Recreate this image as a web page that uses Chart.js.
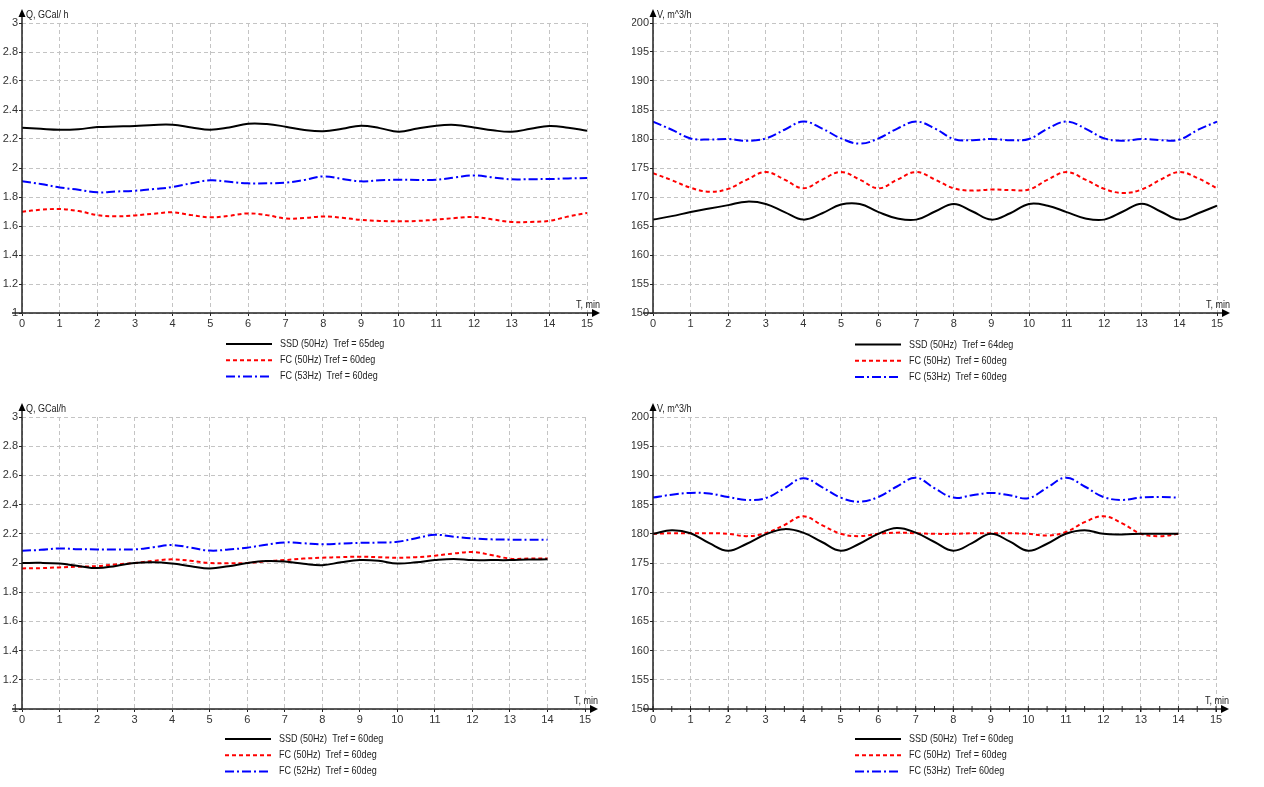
<!DOCTYPE html>
<html><head><meta charset="utf-8">
<script src="https://cdn.jsdelivr.net/npm/chart.js@4.4.1/dist/chart.umd.min.js"></script>
<style>
html,body{margin:0;padding:0;background:#fff;overflow:hidden;}
.wrap{position:absolute;width:632px;height:393px;}
canvas{display:block;}
</style></head><body>
<div class="wrap" style="left:0;top:0"><canvas id="c1" width="632" height="393"></canvas></div>
<div class="wrap" style="left:632px;top:0"><canvas id="c2" width="632" height="393"></canvas></div>
<div class="wrap" style="left:0;top:393px"><canvas id="c3" width="632" height="393"></canvas></div>
<div class="wrap" style="left:632px;top:393px"><canvas id="c4" width="632" height="393"></canvas></div>
<script>
// ---------- data ----------
const timeTo15 = [0,0.5,1,1.5,2,2.5,3,3.5,4,4.5,5,5.5,6,6.5,7,7.5,8,8.5,9,9.5,10,10.5,11,11.5,12,12.5,13,13.5,14,14.5,15];
const timeTo14 = [0,0.5,1,1.5,2,2.5,3,3.5,4,4.5,5,5.5,6,6.5,7,7.5,8,8.5,9,9.5,10,10.5,11,11.5,12,12.5,13,13.5,14];
const xTicks = [0,1,2,3,4,5,6,7,8,9,10,11,12,13,14,15];
const qTicks = [1,1.2,1.4,1.6,1.8,2,2.2,2.4,2.6,2.8,3];
const vTicks = [150,155,160,165,170,175,180,185,190,195,200];

// Chart 1: Q, top-left
const q1Labels = ["SSD (50Hz)  Tref = 65deg","FC (50Hz) Tref = 60deg","FC (53Hz)  Tref = 60deg"];
const q1Ssd = [2.278,2.27,2.264,2.268,2.282,2.286,2.29,2.297,2.298,2.28,2.264,2.28,2.305,2.303,2.285,2.262,2.253,2.27,2.292,2.275,2.25,2.272,2.292,2.297,2.28,2.26,2.25,2.27,2.29,2.278,2.257];
const q1Fc50 = [1.699,1.712,1.717,1.703,1.675,1.667,1.673,1.685,1.694,1.675,1.66,1.67,1.687,1.675,1.652,1.655,1.666,1.657,1.642,1.635,1.632,1.635,1.644,1.655,1.662,1.645,1.628,1.628,1.636,1.665,1.69];
const q1Fc53 = [1.908,1.89,1.866,1.85,1.832,1.838,1.843,1.855,1.869,1.895,1.915,1.905,1.894,1.895,1.899,1.918,1.942,1.925,1.908,1.915,1.919,1.918,1.919,1.935,1.949,1.935,1.922,1.923,1.924,1.928,1.931];

// Chart 2: V, top-right
const v2Labels = ["SSD (50Hz)  Tref = 64deg","FC (50Hz)  Tref = 60deg","FC (53Hz)  Tref = 60deg"];
const v2Ssd = [166.1,166.7,167.4,168.0,168.6,169.2,168.8,167.4,166.1,167.2,168.7,168.8,167.4,166.3,166.1,167.5,168.8,167.5,166.1,167.2,168.8,168.5,167.4,166.3,166.1,167.5,168.85,167.5,166.1,167.2,168.5];
const v2Fc50 = [174.1,172.9,171.6,170.9,171.4,173.0,174.3,173.0,171.5,173.0,174.3,173.0,171.5,173.0,174.3,173.0,171.5,171.1,171.3,171.2,171.3,173.0,174.3,173.0,171.4,170.7,171.3,173.0,174.3,173.2,171.5];
const v2Fc53 = [183.0,181.6,180.1,179.9,180.0,179.7,180.1,181.6,183.0,181.8,180.1,179.2,180.1,181.8,183.0,181.8,180.0,179.8,180.0,179.8,180.0,181.8,183.0,181.8,180.1,179.7,180.0,179.8,179.9,181.6,183.0];

// Chart 3: Q, bottom-left
const q3Labels = ["SSD (50Hz)  Tref = 60deg","FC (50Hz)  Tref = 60deg","FC (52Hz)  Tref = 60deg"];
const q3Ssd = [2.0,2.001,1.996,1.98,1.965,1.98,2.0,2.005,1.996,1.978,1.963,1.978,2.0,2.013,2.01,1.995,1.985,2.005,2.02,2.015,1.996,2.005,2.02,2.028,2.02,2.02,2.02,2.024,2.025];
const q3Fc50 = [1.963,1.965,1.97,1.975,1.979,1.99,2.0,2.015,2.025,2.015,2.0,1.998,2.0,2.012,2.02,2.03,2.036,2.04,2.043,2.04,2.036,2.04,2.05,2.065,2.075,2.055,2.03,2.03,2.03];
const q3Fc52 = [2.084,2.09,2.1,2.095,2.093,2.093,2.093,2.108,2.123,2.105,2.085,2.092,2.105,2.125,2.141,2.135,2.128,2.133,2.138,2.14,2.145,2.17,2.193,2.18,2.168,2.162,2.16,2.16,2.16];

// Chart 4: V, bottom-right
const v4Labels = ["SSD (50Hz)  Tref = 60deg","FC (50Hz)  Tref = 60deg","FC (53Hz)  Tref= 60deg"];
const v4Ssd = [180.0,180.6,180.1,178.4,177.1,178.3,179.9,180.8,180.2,178.6,177.1,178.3,180.0,181.0,180.2,178.6,177.1,178.4,180.0,178.7,177.1,178.3,180.0,180.6,180.0,179.9,180.0,180.0,180.0];
const v4Fc50 = [180.0,180.1,180.1,180.1,180.0,179.6,180.1,181.5,183.0,181.5,180.0,179.6,180.0,180.2,180.1,180.0,180.0,180.1,180.1,180.1,180.0,179.7,180.3,182.0,183.0,181.8,180.0,179.6,180.0];
const v4Fc53 = [186.2,186.7,187.0,186.9,186.3,185.8,186.1,187.8,189.5,188.0,186.2,185.5,186.3,188.1,189.6,187.8,186.2,186.6,187.0,186.6,186.1,187.9,189.6,188.1,186.3,185.8,186.2,186.3,186.2];

// ---------- drawing ----------
const FONT = "'Liberation Sans', Arial, sans-serif";
Chart.defaults.font.family = FONT;
Chart.defaults.font.size = 11;
Chart.defaults.color = '#222';

const styles = [
  {color:'#000000', dash:[]},
  {color:'#ff0000', dash:[4,3]},
  {color:'#0000ff', dash:[9,3,2,3]}
];

function pts(t, v){ return v.map((y,i)=>({x:t[i], y:y})); }

function narrowText(ctx, txt, x, y, align){
  ctx.save();
  ctx.translate(x, y);
  ctx.scale(0.82, 1);
  ctx.textAlign = align;
  ctx.fillText(txt, 0, 0);
  ctx.restore();
}

const deco = {
  id:'deco',
  afterDraw(chart){
    const o = chart.options.plugins.deco;
    const ctx = chart.ctx, a = chart.chartArea;
    const xs = chart.scales.x;
    ctx.save();
    ctx.strokeStyle = '#222'; ctx.fillStyle = '#000'; ctx.lineWidth = 1.5;
    // x axis
    ctx.beginPath(); ctx.moveTo(a.left-10, a.bottom); ctx.lineTo(a.right+7, a.bottom); ctx.stroke();
    ctx.beginPath(); ctx.moveTo(a.right+13, a.bottom); ctx.lineTo(a.right+5, a.bottom-4); ctx.lineTo(a.right+5, a.bottom+4); ctx.closePath(); ctx.fill();
    // y axis
    ctx.beginPath(); ctx.moveTo(a.left, a.bottom); ctx.lineTo(a.left, a.top-9); ctx.stroke();
    ctx.beginPath(); ctx.moveTo(a.left, a.top-14); ctx.lineTo(a.left-3.5, a.top-6); ctx.lineTo(a.left+3.5, a.top-6); ctx.closePath(); ctx.fill();
    if (o.minor){
      ctx.lineWidth = 1;
      for (let v=0; v<=15; v+=0.5){
        const px = xs.getPixelForValue(v);
        ctx.beginPath(); ctx.moveTo(px, a.bottom-3); ctx.lineTo(px, a.bottom+3); ctx.stroke();
      }
    }
    // titles
    ctx.font = '11px ' + FONT; ctx.fillStyle = '#222';
    ctx.textBaseline = 'middle';
    narrowText(ctx, o.yTitle, a.left+4, a.top-8, 'left');
    narrowText(ctx, 'T, min', a.right+13, a.bottom-8, 'right');
    // legend
    chart.data.datasets.forEach((ds,i)=>{
      const y = o.legY + i*16.2;
      ctx.save();
      ctx.strokeStyle = ds.borderColor; ctx.lineWidth = 2; ctx.setLineDash(ds.borderDash);
      ctx.beginPath(); ctx.moveTo(o.legX, y); ctx.lineTo(o.legX+46, y); ctx.stroke();
      ctx.restore();
      ctx.fillStyle = '#222';
      narrowText(ctx, ds.label, o.legX+54, y, 'left');
    });
    ctx.restore();
  }
};

function make(id, g){
  const datasets = g.series.map((v,i)=>({
    label: g.labels[i],
    data: pts(g.time, v),
    borderColor: styles[i].color,
    borderDash: styles[i].dash,
    borderWidth: 2,
    pointRadius: 0,
    tension: 0.4,
    fill: false
  }));
  return new Chart(document.getElementById(id), {
    type:'line',
    data:{datasets},
    options:{
      responsive:false, animation:false, devicePixelRatio:1,
      layout:{padding:{left:0, top:g.T, right:632-g.R, bottom:393-g.B-20}},
      plugins:{legend:{display:false}, tooltip:{enabled:false},
        deco:{yTitle:g.yTitle, legX:g.legX, legY:g.legY, minor:!!g.minor}},
      scales:{
        x:{type:'linear', min:0, max:15,
          afterBuildTicks:s=>{ s.ticks = xTicks.map(v=>({value:v})); },
          afterFit:s=>{ s.height = 20; },
          ticks:{autoSkip:false, maxRotation:0, padding:1, color:'#333', font:{size:11}},
          grid:{color:'#c4c4c4', tickLength:3, tickColor:'#222', tickBorderDash:[]},
          border:{display:false, dash:[4,3]}
        },
        y:{type:'linear', min:g.ymin, max:g.ymax,
          afterBuildTicks:s=>{ s.ticks = g.yTicks.map(v=>({value:v})); },
          afterFit:s=>{ s.width = g.L; },
          ticks:{autoSkip:false, padding:1, color:'#333', font:{size:11}, callback:v=>String(v)},
          grid:{color:'#c4c4c4', tickLength:3, tickColor:'#222', tickBorderDash:[]},
          border:{display:false, dash:[4,3]}
        }
      }
    },
    plugins:[deco]
  });
}

make('c1', {time:timeTo15, series:[q1Ssd,q1Fc50,q1Fc53], labels:q1Labels, yTicks:qTicks, ymin:1, ymax:3,
  yTitle:'Q, GCal/ h', L:22, R:587, T:23, B:313, legX:226, legY:344});
make('c2', {time:timeTo15, series:[v2Ssd,v2Fc50,v2Fc53], labels:v2Labels, yTicks:vTicks, ymin:150, ymax:200,
  yTitle:'V, m^3/h', L:21, R:585, T:23, B:313, legX:223, legY:344.5});
make('c3', {time:timeTo14, series:[q3Ssd,q3Fc50,q3Fc52], labels:q3Labels, yTicks:qTicks, ymin:1, ymax:3,
  yTitle:'Q, GCal/h', L:22, R:585, T:24, B:316, legX:225, legY:346});
make('c4', {time:timeTo14, series:[v4Ssd,v4Fc50,v4Fc53], labels:v4Labels, yTicks:vTicks, ymin:150, ymax:200,
  yTitle:'V, m^3/h', L:21, R:584, T:24, B:316, legX:223, legY:346, minor:true});
</script>
</body></html>
